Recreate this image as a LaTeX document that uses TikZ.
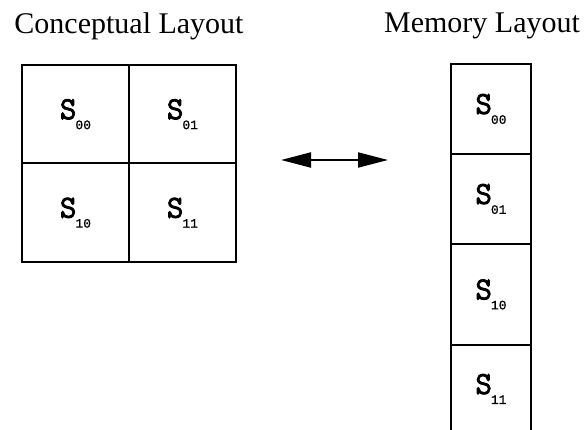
\documentclass[tikz,border=0pt]{standalone}
\usepackage{fontspec}
\setmainfont{Liberation Serif}
\newfontfamily\letterfont[FakeBold=2.5]{Latin Modern Mono}
\newfontfamily\subfont[FakeBold=1]{Liberation Mono}
\usetikzlibrary{arrows.meta,positioning}

\newcommand{\cellname}[1]{{\letterfont S}\kern-1pt\raisebox{-10pt}{\subfont\fontsize{13}{13}\selectfont #1}}

\begin{document}
\begin{tikzpicture}[x=1pt, y=-1pt, node distance=0pt,
  every node/.style={font=\fontsize{30}{36}\selectfont},
  cellbox/.style={draw, line width=2pt, outer sep=0pt, inner sep=0pt, minimum width=107pt, minimum height=98.5pt, font=\fontsize{32}{32}\selectfont},
  slotbox/.style={cellbox, minimum width=80pt}]
\useasboundingbox (0,0) rectangle (587,430);
\clip (0,0) rectangle (587,430);

% conceptual 2x2 grid
\node[cellbox] (c00) at (75.5,114.25) {\cellname{00}};
\node[cellbox, right=of c00] (c01) {\cellname{01}};
\node[cellbox, below=of c00] (c10) {\cellname{10}};
\node[cellbox, right=of c10] (c11) {\cellname{11}};
\node[above=25pt of c00.north east, inner sep=0pt] (ctitle) {Conceptual Layout};

% memory column
\node[slotbox, minimum height=90pt] (m00) at (491,109) {\cellname{00}};
\node[slotbox, minimum height=90pt, below=of m00] (m01) {\cellname{01}};
\node[slotbox, minimum height=101pt, below=of m01] (m10) {\cellname{10}};
\node[slotbox, minimum height=88pt, below=of m10] (m11) {\cellname{11}};
\node[above=25pt of m00.north, xshift=-9pt, inner sep=0pt] (mtitle) {Memory Layout};

\coordinate (arrL) at (281,160);
\coordinate (arrR) at (388,160);
\draw[{Triangle[length=30pt,width=15pt]}-{Triangle[length=30pt,width=15pt]}, line width=2pt] (arrL) -- (arrR);
\end{tikzpicture}
\end{document}
